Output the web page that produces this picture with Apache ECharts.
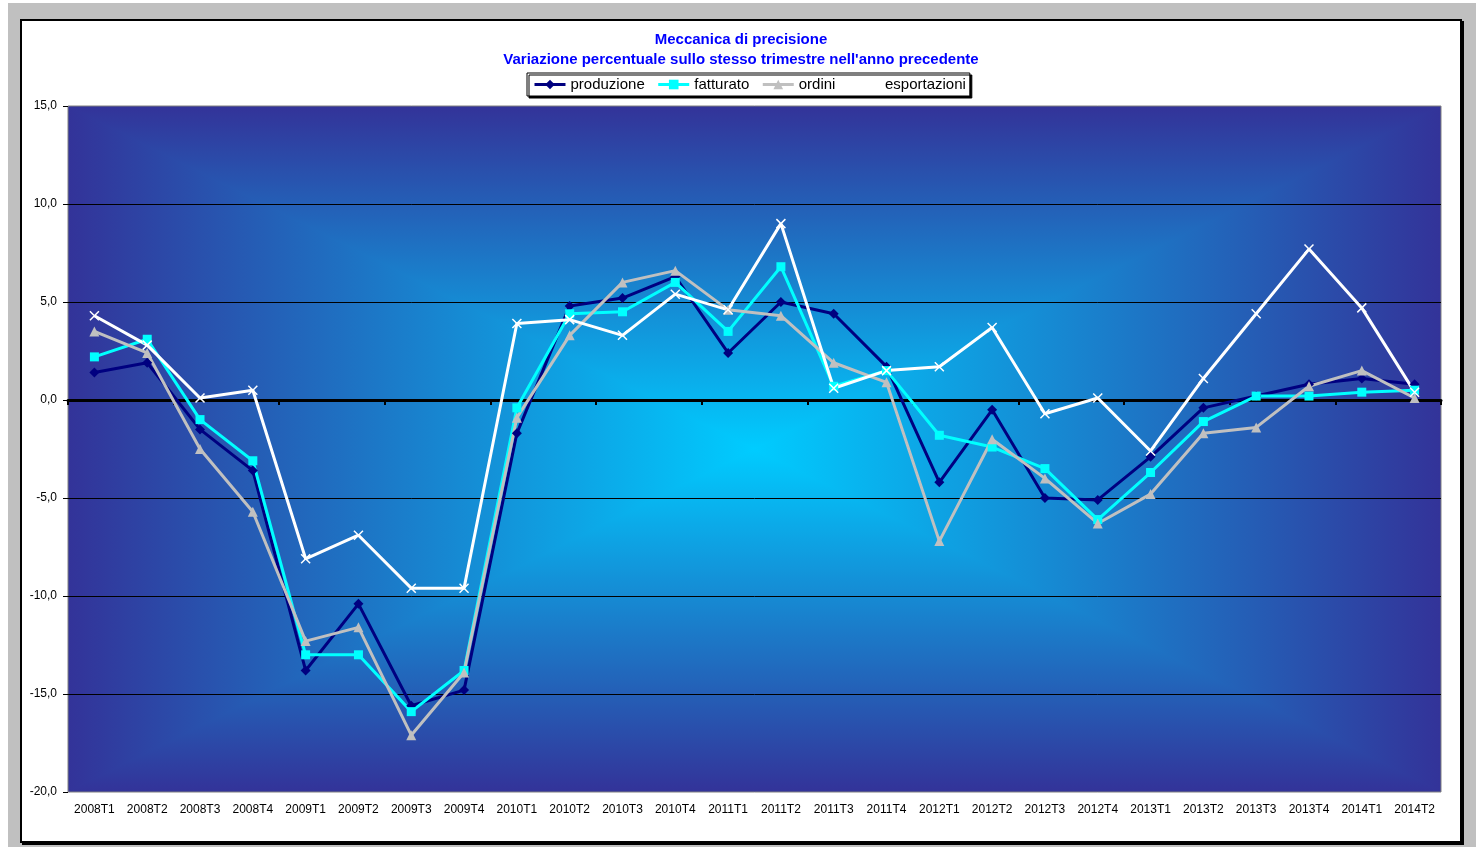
<!DOCTYPE html>
<html>
<head>
<meta charset="utf-8">
<script src="https://cdn.jsdelivr.net/npm/echarts@6/dist/echarts.min.js"></script>
<style>
  html, body { margin: 0; padding: 0; background: #fff; }
  #sfondo { position: absolute; left: 8px; top: 3px; width: 1468px; height: 844px; background: #c0c0c0; }
  #cornice { position: absolute; left: 20px; top: 19px; width: 1438px; height: 820px;
             background: #fff; border: 2px solid #000; box-shadow: 2px 2px 0 #000; }
  #grafico { width: 1438px; height: 820px; }
</style>
</head>
<body>
<div id="sfondo"></div>
<div id="cornice"><div id="grafico"></div></div>
<script>
// trimestri
const trimestri = ['2008T1', '2008T2', '2008T3', '2008T4', '2009T1', '2009T2', '2009T3', '2009T4',
  '2010T1', '2010T2', '2010T3', '2010T4', '2011T1', '2011T2', '2011T3', '2011T4',
  '2012T1', '2012T2', '2012T3', '2012T4', '2013T1', '2013T2', '2013T3', '2013T4',
  '2014T1', '2014T2']

// variazioni percentuali
const produzione = [1.4, 1.9, -1.5, -3.6, -13.8, -10.4, -15.6, -14.8, -1.7, 4.8, 5.2, 6.3, 2.4,
  5.0, 4.4, 1.7, -4.2, -0.5, -5.0, -5.1, -2.9, -0.4, 0.2, 0.8, 1.1, 0.8]
const fatturato = [2.2, 3.1, -1.0, -3.1, -13.0, -13.0, -15.9, -13.8, -0.4, 4.4, 4.5, 6.0, 3.5,
  6.8, 0.7, 1.5, -1.8, -2.4, -3.5, -6.1, -3.7, -1.1, 0.2, 0.2, 0.4, 0.5]
const ordini = [3.5, 2.4, -2.5, -5.7, -12.3, -11.6, -17.1, -13.9, -0.9, 3.3, 6.0, 6.6, 4.6,
  4.3, 1.9, 0.9, -7.2, -2.0, -4.0, -6.3, -4.8, -1.7, -1.4, 0.7, 1.5, 0.1]
const esportazioni = [4.3, 2.8, 0.1, 0.5, -8.1, -6.9, -9.6, -9.6, 3.9, 4.1, 3.3, 5.4, 4.6,
  9.0, 0.6, 1.5, 1.7, 3.7, -0.7, 0.1, -2.6, 1.1, 4.4, 7.7, 4.7, 0.4]

const font = "'Liberation Sans', Arial, sans-serif"
const chart = echarts.init(document.getElementById('grafico'))

// area del grafico (px nel canvas)
const L = 46, T = 85, R = 1419, B = 771
const cx = (L + R) / 2, cy = (T + B) / 2
const scuro = '#333399', chiaro = '#00ccff'
const grad = (x, y, x2, y2) => ({
  type: 'linear', x: x, y: y, x2: x2, y2: y2,
  colorStops: [{ offset: 0, color: scuro }, { offset: 1, color: chiaro }]
})
// sfumatura rettangolare dal centro: rettangolo verticale + triangoli laterali
const sfumatura = [
  {
    type: 'rect', z: -6, silent: true,
    shape: { x: L, y: T, width: R - L, height: B - T },
    style: {
      fill: {
        type: 'linear', x: 0, y: 0, x2: 0, y2: 1,
        colorStops: [{ offset: 0, color: scuro }, { offset: 0.5, color: chiaro }, { offset: 1, color: scuro }]
      }
    }
  },
  {
    type: 'polygon', z: -5, silent: true,
    shape: { points: [[L, T], [L, B], [cx, cy]] },
    style: { fill: grad(0, 0, 1, 0) }
  },
  {
    type: 'polygon', z: -5, silent: true,
    shape: { points: [[R, T], [R, B], [cx, cy]] },
    style: { fill: grad(1, 0, 0, 0) }
  }
]

const lineaSerie = (name, data, color, symbol, size) => ({
  name: name,
  type: 'line',
  data: data,
  symbol: symbol,
  symbolSize: size,
  lineStyle: { color: color, width: 3 },
  itemStyle: { color: color },
  emphasis: { disabled: true }
})

const serieEsp = lineaSerie('esportazioni', esportazioni, '#ffffff', 'path://M0,0L10,10M10,0L0,10', 9)
serieEsp.itemStyle = { color: '#ffffff', borderColor: '#ffffff', borderWidth: 1.5 }

chart.setOption({
  animation: false,
  textStyle: { fontFamily: font },
  title: {
    text: 'Meccanica di precisione\nVariazione percentuale sullo stesso trimestre nell\'anno precedente',
    left: 'center',
    top: 9,
    padding: 0,
    textStyle: { fontFamily: font, fontSize: 15, fontWeight: 'bold', color: '#0000ff', lineHeight: 20 }
  },
  legend: {
    left: 505,
    top: 52,
    padding: [4, 4, 4, 6],
    itemWidth: 31,
    itemHeight: 12,
    itemGap: 12,
    backgroundColor: '#fff',
    borderColor: '#000',
    borderWidth: 1,
    shadowColor: '#000',
    shadowOffsetX: 2,
    shadowOffsetY: 2,
    shadowBlur: 0,
    lineStyle: { width: 3 },
    textStyle: { fontFamily: font, fontSize: 15, color: '#000' },
    data: ['produzione', 'fatturato', 'ordini', 'esportazioni']
  },
  graphic: sfumatura,
  grid: {
    left: L, right: 1438 - R, top: T, bottom: 820 - B,
    show: true, borderColor: '#808080', borderWidth: 1, backgroundColor: 'transparent'
  },
  xAxis: [
    {
      type: 'category',
      data: trimestri,
      position: 'bottom',
      axisLine: { show: false, onZero: false },
      axisTick: { show: false },
      axisLabel: { interval: 0, fontSize: 12, color: '#000', margin: 12, fontFamily: font },
      splitLine: { show: false }
    },
    {
      type: 'category',
      data: trimestri,
      position: 'top',
      axisLine: { onZero: true, lineStyle: { color: '#000', width: 3 } },
      axisTick: { show: true, inside: true, length: 5, lineStyle: { color: '#000', width: 2 } },
      axisLabel: { show: false },
      splitLine: { show: false }
    }
  ],
  yAxis: {
    type: 'value',
    min: -20,
    max: 15,
    interval: 5,
    axisLine: { show: false },
    axisTick: { show: true, length: 5, lineStyle: { color: '#000' } },
    axisLabel: {
      fontSize: 12, color: '#000', margin: 11, fontFamily: font,
      formatter: v => v.toFixed(1).replace('.', ',')
    },
    splitLine: { show: true, showMinLine: false, showMaxLine: false, lineStyle: { color: '#000', width: 1 } }
  },
  series: [
    lineaSerie('produzione', produzione, '#000080', 'diamond', 10),
    lineaSerie('fatturato', fatturato, '#00ffff', 'rect', 9),
    lineaSerie('ordini', ordini, '#c0c0c0', 'triangle', 10),
    serieEsp
  ]
})
</script>
</body>
</html>
